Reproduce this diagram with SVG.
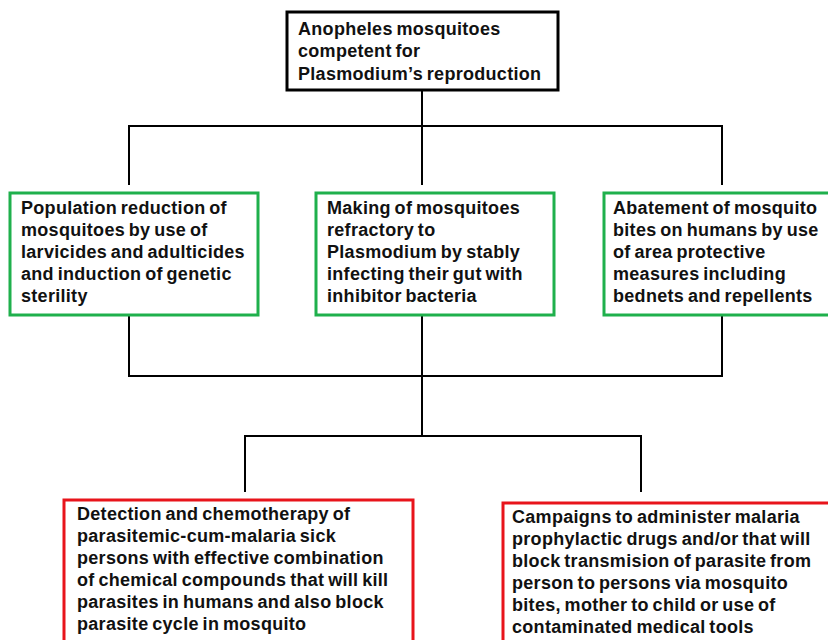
<svg xmlns="http://www.w3.org/2000/svg" width="828" height="640" viewBox="0 0 828 640">
<style>
.box{fill:#fff;stroke-width:3}
.top{stroke:#000}
.green{stroke:#1fb04c}
.red{stroke:#e8141b}
.t{font-family:"Liberation Sans",Arial,sans-serif;font-weight:bold;font-size:18px;fill:#111;word-spacing:-1.5px;letter-spacing:0.3px}
.c{fill:none;stroke:#000;stroke-width:2}
</style>
<rect width="828" height="640" fill="#fff"/>
<g id="connectors">
<path class="c" d="M422 90V126M129 185V126H722V185M422 126V185"/>
<path class="c" d="M129 315V376H722V315M422 315V436M245 492V436H641V492"/>
</g>
<g id="n-top">
<rect class="box top" x="287" y="12" width="271" height="78"/>
<text class="t"><tspan x="298" y="35">Anopheles mosquitoes</tspan><tspan x="298" y="57">competent for</tspan><tspan x="298" y="80">Plasmodium’s reproduction</tspan></text>
</g>
<g id="n-population">
<rect class="box green" x="10" y="193" width="248" height="122"/>
<text class="t"><tspan x="21" y="214">Population reduction of</tspan><tspan x="21" y="236">mosquitoes by use of</tspan><tspan x="21" y="258">larvicides and adulticides</tspan><tspan x="21" y="280">and induction of genetic</tspan><tspan x="21" y="302">sterility</tspan></text>
</g>
<g id="n-refractory">
<rect class="box green" x="316" y="193" width="238" height="122"/>
<text class="t"><tspan x="327" y="214">Making of mosquitoes</tspan><tspan x="327" y="236">refractory to</tspan><tspan x="327" y="258">Plasmodium by stably</tspan><tspan x="327" y="280">infecting their gut with</tspan><tspan x="327" y="302">inhibitor bacteria</tspan></text>
</g>
<g id="n-abatement">
<rect class="box green" x="604" y="193" width="240" height="122"/>
<text class="t"><tspan x="613" y="214">Abatement of mosquito</tspan><tspan x="613" y="236">bites on humans by use</tspan><tspan x="613" y="258">of area protective</tspan><tspan x="613" y="280">measures including</tspan><tspan x="613" y="302">bednets and repellents</tspan></text>
</g>
<g id="n-detection">
<rect class="box red" x="64" y="500" width="349" height="170"/>
<text class="t"><tspan x="77" y="520">Detection and chemotherapy of</tspan><tspan x="77" y="542">parasitemic-cum-malaria sick</tspan><tspan x="77" y="564">persons with effective combination</tspan><tspan x="77" y="586">of chemical compounds that will kill</tspan><tspan x="77" y="608">parasites in humans and also block</tspan><tspan x="77" y="630">parasite cycle in mosquito</tspan></text>
</g>
<g id="n-campaigns">
<rect class="box red" x="503" y="503" width="340" height="170"/>
<text class="t"><tspan x="512" y="523">Campaigns to administer malaria</tspan><tspan x="512" y="545">prophylactic drugs and/or that will</tspan><tspan x="512" y="567">block transmision of parasite from</tspan><tspan x="512" y="589">person to persons via mosquito</tspan><tspan x="512" y="611">bites, mother to child or use of</tspan><tspan x="512" y="633">contaminated medical tools</tspan></text>
</g>
</svg>
